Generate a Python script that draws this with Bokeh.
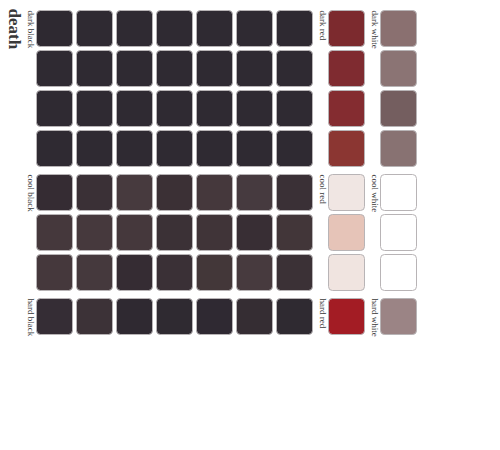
from bokeh.plotting import figure
from bokeh.models import Range1d, ColumnDataSource
from bokeh.embed import file_html
from bokeh.resources import INLINE
from bokeh.core.properties import value
import math

title = "death"
groups = ["dark", "cool", "hard"]
kinds = ["black", "red", "white"]

dark_black = [
    ["#2e2931", "#2f2a32", "#2f2a32", "#2f2a32", "#2f2a32", "#2f2a32", "#2e2931"],
    ["#2f2a32", "#2f2a32", "#2f2a32", "#2f2a32", "#2f2a32", "#2f2a32", "#2f2a32"],
    ["#2f2a32", "#2f2a32", "#2f2a32", "#2f2a32", "#2f2a32", "#2f2a32", "#2f2a32"],
    ["#2f2a32", "#2f2a32", "#2f2a32", "#2f2a32", "#2f2a32", "#2f2a32", "#2f2a32"],
]
cool_black = [
    ["#352c33", "#3a3036", "#473a3e", "#3b3035", "#45383c", "#463a3f", "#3a3036"],
    ["#45383c", "#46393d", "#45383c", "#3b3136", "#403438", "#382e34", "#423639"],
    ["#45383c", "#45393d", "#352c33", "#3a3036", "#433739", "#473a3e", "#3b3136"],
]
hard_black = [
    ["#352d35", "#3c3237", "#2f2931", "#2f2a31", "#2f2932", "#352d33", "#2f2a31"],
]
dark_red = ["#7c2a2e", "#7f2b30", "#842c30", "#8b3632"]
dark_white = ["#8a7070", "#8b7474", "#745e5f", "#887272"]
cool_red = ["#f0e6e3", "#e6c4b8", "#f0e4e0"]
cool_white = ["#ffffff", "#ffffff", "#ffffff"]
hard_red = ["#a31c24"]
hard_white = ["#9b8485"]

blacks = [dark_black, cool_black, hard_black]
reds = [dark_red, cool_red, hard_red]
whites = [dark_white, cool_white, hard_white]

W, H = 500, 450
X0, Y0 = 36, 10
STEP, CELL, GAP = 40, 36, 4
KIND_GAP = 12

def col_left(kind_idx, i):
    n_black = 7
    if kind_idx == 0:
        return X0 + STEP * i
    return X0 + STEP * n_black + KIND_GAP + (STEP + KIND_GAP) * (kind_idx - 1)

def row_top(g, r_global):
    return Y0 + STEP * r_global + GAP * g

left, right, top, bottom, fill = [], [], [], [], []
lx, ly, lt = [], [], []
r_global = 0
for g, gname in enumerate(groups):
    nrows = len(blacks[g])
    for r in range(nrows):
        t = row_top(g, r_global + r)
        cells = [(0, i, c) for i, c in enumerate(blacks[g][r])]
        cells.append((1, 0, reds[g][r]))
        cells.append((2, 0, whites[g][r]))
        for k, i, c in cells:
            l = col_left(k, i)
            left.append(l); right.append(l + CELL)
            top.append(H - t); bottom.append(H - t - CELL)
            fill.append(c)
    t0 = row_top(g, r_global)
    for k, kname in enumerate(kinds):
        lx.append(col_left(k, 0) - 1)
        ly.append(H - t0)
        lt.append(f"{gname} {kname}")
    r_global += nrows

p = figure(width=W, height=H, output_backend="svg", toolbar_location=None,
           x_range=Range1d(0, W), y_range=Range1d(0, H), min_border=0,
           outline_line_color=None)
p.axis.visible = False
p.grid.visible = False

src = ColumnDataSource(dict(left=left, right=right, top=top, bottom=bottom, fill=fill))
p.quad(left="left", right="right", top="top", bottom="bottom", source=src,
       fill_color="fill", line_color="#b8b4b6", line_width=1, border_radius=4)

p.text(x=lx, y=ly, text=lt, angle=-math.pi / 2, text_align="left",
       text_baseline="top", text_font=value("Liberation Serif"),
       text_font_size="9px", text_color="#3a3a3a")

p.text(x=[23], y=[H - 8], text=[title], angle=-math.pi / 2, text_align="left",
       text_baseline="top", text_font=value("Liberation Serif"),
       text_font_size="17px", text_font_style="bold", text_color="#3a3a3a")

open("out.html", "w").write(file_html(p, INLINE))
